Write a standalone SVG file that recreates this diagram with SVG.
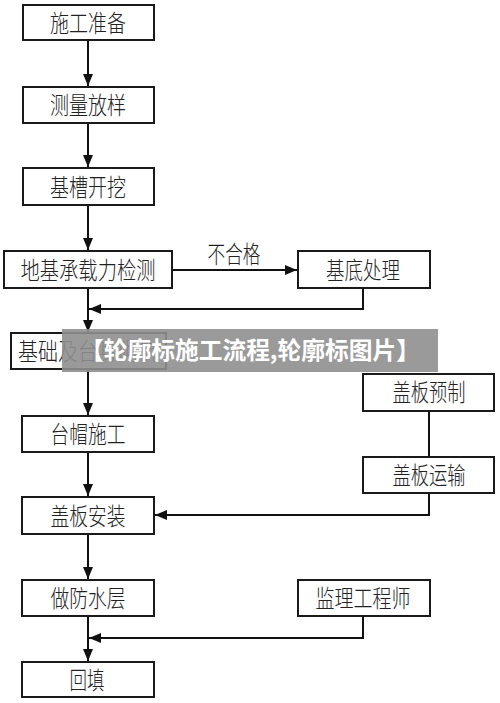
<svg xmlns="http://www.w3.org/2000/svg" width="500" height="703" viewBox="0 0 500 703">
<defs>
<style>
.box{fill:#fff;stroke:#1a1a1a;stroke-width:2}
.t{font-family:"Noto Sans CJK SC","Noto Sans CJK JP",sans-serif;font-size:24px;font-weight:300;fill:#222;text-anchor:middle}
.ln{fill:none;stroke:#111;stroke-width:2}
.wm{font-family:"Noto Sans CJK SC",sans-serif;font-size:24px;font-weight:bold;fill:#fff;text-anchor:middle}
</style>
<marker id="ah" markerWidth="12" markerHeight="10" refX="12" refY="5" orient="auto" markerUnits="userSpaceOnUse">
<path d="M0,0 L12,5 L0,10 Z" fill="#111"/>
</marker>
</defs>
<rect width="500" height="703" fill="#fff"/>
<g id="connectors">
<line class="ln" x1="88" y1="40" x2="88" y2="86" marker-end="url(#ah)"/>
<line class="ln" x1="88" y1="123" x2="88" y2="167" marker-end="url(#ah)"/>
<line class="ln" x1="88" y1="205" x2="88" y2="250" marker-end="url(#ah)"/>
<line class="ln" x1="88" y1="288" x2="88" y2="332" marker-end="url(#ah)"/>
<line class="ln" x1="88" y1="369" x2="88" y2="415" marker-end="url(#ah)"/>
<line class="ln" x1="88" y1="452" x2="88" y2="496" marker-end="url(#ah)"/>
<line class="ln" x1="88" y1="534" x2="88" y2="579" marker-end="url(#ah)"/>
<line class="ln" x1="88" y1="616" x2="88" y2="661" marker-end="url(#ah)"/>
<line class="ln" x1="172" y1="270" x2="297" y2="270" marker-end="url(#ah)"/>
<polyline class="ln" points="363,288 363,309 89,309" marker-end="url(#ah)"/>
<line class="ln" x1="429" y1="411" x2="429" y2="457"/>
<polyline class="ln" points="429,493 429,515 155,515" marker-end="url(#ah)"/>
<polyline class="ln" points="363,616 363,638 89,638" marker-end="url(#ah)"/>
<text class="t" x="234" y="263" textLength="53" lengthAdjust="spacingAndGlyphs">不合格</text>
</g>
<g id="n1"><rect class="box" x="23" y="5" width="131" height="35"/><text class="t" x="88" y="32" textLength="76" lengthAdjust="spacingAndGlyphs">施工准备</text></g>
<g id="n2"><rect class="box" x="23" y="87" width="131" height="36"/><text class="t" x="88" y="114" textLength="76" lengthAdjust="spacingAndGlyphs">测量放样</text></g>
<g id="n3"><rect class="box" x="23" y="168" width="131" height="37"/><text class="t" x="88" y="196" textLength="76" lengthAdjust="spacingAndGlyphs">基槽开挖</text></g>
<g id="n4"><rect class="box" x="4" y="251" width="168" height="37"/><text class="t" x="88" y="279" textLength="135" lengthAdjust="spacingAndGlyphs">地基承载力检测</text></g>
<g id="n5"><rect class="box" x="298" y="251" width="132" height="37"/><text class="t" x="363" y="279" textLength="74" lengthAdjust="spacingAndGlyphs">基底处理</text></g>
<g id="n6"><rect class="box" x="11" y="333" width="155" height="36"/><text class="t" x="88" y="360" textLength="140" lengthAdjust="spacingAndGlyphs">基础及台身砌筑</text></g>
<g id="n7"><rect class="box" x="22" y="416" width="132" height="36"/><text class="t" x="88" y="443" textLength="75" lengthAdjust="spacingAndGlyphs">台帽施工</text></g>
<g id="n8"><rect class="box" x="363" y="374" width="131" height="37"/><text class="t" x="429" y="401" textLength="73" lengthAdjust="spacingAndGlyphs">盖板预制</text></g>
<g id="n9"><rect class="box" x="363" y="457" width="131" height="36"/><text class="t" x="429" y="484" textLength="73" lengthAdjust="spacingAndGlyphs">盖板运输</text></g>
<g id="n10"><rect class="box" x="22" y="497" width="132" height="37"/><text class="t" x="88" y="525" textLength="75" lengthAdjust="spacingAndGlyphs">盖板安装</text></g>
<g id="n11"><rect class="box" x="22" y="580" width="132" height="36"/><text class="t" x="88" y="607" textLength="75" lengthAdjust="spacingAndGlyphs">做防水层</text></g>
<g id="n12"><rect class="box" x="298" y="580" width="132" height="36"/><text class="t" x="363" y="607" textLength="95" lengthAdjust="spacingAndGlyphs">监理工程师</text></g>
<g id="n13"><rect class="box" x="22" y="662" width="132" height="35"/><text class="t" x="87" y="689" textLength="35" lengthAdjust="spacingAndGlyphs">回填</text></g>
<g id="watermark">
<rect x="62" y="329" width="376" height="43" fill="#8f8f8f" fill-opacity="0.9"/>
<text class="wm" x="250" y="359" textLength="340" lengthAdjust="spacingAndGlyphs">【轮廓标施工流程,轮廓标图片】</text>
</g>
</svg>
